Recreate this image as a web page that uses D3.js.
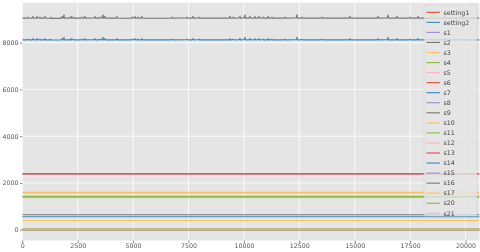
<!DOCTYPE html>
<html>
<head>
<meta charset="utf-8">
<script src="https://cdn.jsdelivr.net/npm/d3@7"></script>
<style>
  body { margin: 0; background: #fff; }
  svg { will-change: transform; }
  text { font-family: "DejaVu Sans", sans-serif; }
</style>
</head>
<body>
<div id="chart"></div>
<script>
// column names, in plotting order
var seriesNames = ['setting1', 'setting2', 's1', 's2', 's3', 's4', 's5', 's6', 's7', 's8',
    's9', 's10', 's11', 's12', 's13', 's14', 's15', 's16', 's17', 's20', 's21'];

// flat-looking sensors: level (null = drawn from its own array)
var flatLevels = [0, 0, 518.7, 642.7, 1590, 1409, 14.6, 21.6, 553.4, 2388,
    null, 1.3, 47.5, 521.4, 2388, null, 8.4, 0.03, 393, 38.8, 23.3];
var flatIdx = [0, 20630];

// s9 / s14 with their spikes (same index positions)
var topIdx = [0,
    207,257,272, 433,483,498, 613,663,678, 749,799,814, 974,1024,1039,
    1245,1295,1310, 1742,1792,1807, 1832,1882,1897, 2148,2198,2213, 2238,2288,2303,
    2644,2694,2709, 2780,2830,2845, 3231,3281,3296, 3457,3507,3522, 3592,3642,3657,
    3683,3733,3748, 4224,4274,4289, 4901,4951,4966, 5037,5087,5102, 5172,5222,5237,
    5353,5403,5418, 6706,6756,6771, 7383,7433,7448, 7654,7704,7719, 7925,7975,7990,
    9324,9374,9389, 9460,9510,9525, 9776,9826,9841, 10002,10052,10067, 10227,10277,10292,
    10453,10503,10518, 10634,10684,10699, 10814,10864,10879, 11040,11090,11105, 11220,11270,11285,
    11807,11857,11872, 12349,12399,12414, 12574,12624,12639, 13477,13527,13542, 14740,14790,14805,
    16004,16054,16069, 16455,16505,16520, 16862,16912,16927, 17448,17498,17513, 17809,17859,17874,
    18351,18401,18416, 19028,19078,19093, 19705,19755,19770,
    20630];

var s9Vals = [9050,
    9052,9092,9048, 9050,9125,9046, 9052,9118,9050, 9054,9090,9050, 9050,9122,9048,
    9046,9088,9040, 9040,9118,9044, 9046,9190,9050, 9052,9125,9048, 9050,9095,9050,
    9052,9092,9054, 9050,9125,9052, 9054,9122,9050, 9052,9095,9050, 9054,9195,9050,
    9052,9128,9050, 9050,9118,9048, 9050,9092,9052, 9054,9125,9050, 9052,9090,9050,
    9052,9122,9048, 9050,9095,9052, 9054,9092,9050, 9052,9125,9050, 9054,9095,9052,
    9050,9125,9048, 9052,9090,9050, 9054,9128,9052, 9054,9190,9050, 9052,9125,9054,
    9052,9122,9050, 9054,9125,9052, 9054,9095,9050, 9052,9122,9050, 9052,9092,9050,
    9052,9095,9050, 9054,9198,9052, 9050,9092,9052, 9050,9095,9050, 9052,9125,9050,
    9052,9122,9050, 9054,9188,9052, 9050,9125,9052, 9052,9092,9050, 9052,9122,9050,
    9050,9092,9052, 9052,9125,9050, 9052,9095,9050,
    9050];

var s14Vals = [8120,
    8122,8150,8120, 8120,8178,8118, 8122,8172,8120, 8124,8148,8120, 8120,8175,8118,
    8118,8146,8114, 8114,8172,8116, 8118,8228,8122, 8122,8178,8120, 8120,8152,8122,
    8122,8150,8124, 8120,8178,8122, 8124,8175,8120, 8122,8152,8120, 8124,8232,8120,
    8122,8180,8120, 8120,8172,8118, 8120,8150,8122, 8124,8178,8120, 8122,8148,8120,
    8122,8175,8118, 8120,8152,8122, 8124,8150,8120, 8122,8178,8120, 8124,8152,8122,
    8120,8178,8118, 8122,8148,8120, 8124,8180,8122, 8124,8228,8120, 8122,8178,8124,
    8122,8175,8120, 8124,8178,8122, 8124,8152,8120, 8122,8175,8120, 8122,8150,8120,
    8122,8152,8120, 8124,8234,8122, 8120,8150,8122, 8120,8152,8120, 8122,8178,8120,
    8122,8175,8120, 8124,8226,8122, 8120,8178,8122, 8122,8150,8120, 8122,8175,8120,
    8120,8150,8122, 8122,8178,8120, 8122,8152,8120,
    8120];

var xTicks = [0, 2500, 5000, 7500, 10000, 12500, 15000, 17500, 20000];
var yTicks = [0, 2000, 4000, 6000, 8000];

var palette = ['#E24A33', '#348ABD', '#988ED5', '#777777', '#FBC15E', '#8EBA42', '#FFB5B8'];

var W = 480, H = 252;
var plotL = 22.3, plotR = 479.5, plotT = 2.8, plotB = 240.5;

var x = d3.scaleLinear().domain([0, 20630]).range([plotL, plotR]);
var y = d3.scaleLinear().domain([-462, 9706]).range([plotB, plotT]);

var svg = d3.select('#chart').append('svg')
    .attr('width', W).attr('height', H);

svg.append('defs').append('clipPath').attr('id', 'plotclip')
    .append('rect')
    .attr('x', plotL).attr('y', plotT)
    .attr('width', plotR - plotL).attr('height', plotB - plotT);

svg.append('rect')
    .attr('x', plotL).attr('y', plotT)
    .attr('width', plotR - plotL).attr('height', plotB - plotT)
    .attr('fill', '#E5E5E5');

// grid
var grid = svg.append('g').attr('class', 'grid');
grid.selectAll('.vg').data(xTicks).enter().append('line')
    .attr('x1', function(d) { return x(d); }).attr('x2', function(d) { return x(d); })
    .attr('y1', plotT).attr('y2', plotB)
    .attr('stroke', '#fff').attr('stroke-width', 0.8);
grid.selectAll('.hg').data(yTicks).enter().append('line')
    .attr('x1', plotL).attr('x2', plotR)
    .attr('y1', function(d) { return y(d); }).attr('y2', function(d) { return y(d); })
    .attr('stroke', '#fff').attr('stroke-width', 0.8);

// axes
var xAxis = svg.append('g')
    .attr('transform', 'translate(0,' + plotB + ')')
    .call(d3.axisBottom(x).tickValues(xTicks).tickFormat(d3.format('d')).tickSize(2.5).tickPadding(0.5));
var yAxis = svg.append('g')
    .attr('transform', 'translate(' + plotL + ',0)')
    .call(d3.axisLeft(y).tickValues(yTicks).tickFormat(d3.format('d')).tickSize(2.5).tickPadding(1.3));
[xAxis, yAxis].forEach(function(a) {
    a.select('.domain').remove();
    a.selectAll('line').attr('stroke', '#555').attr('stroke-width', 0.7);
    a.selectAll('text').attr('fill', '#555').style('font-size', '6.3px')
        .style('font-family', '"DejaVu Sans", sans-serif');
});

// lines
var line = d3.line()
    .x(function(d) { return x(d[0]); })
    .y(function(d) { return y(d[1]); });

var lines = svg.append('g').attr('clip-path', 'url(#plotclip)');

seriesNames.forEach(function(name, i) {
    var pts;
    if (name === 's9') {
        pts = topIdx.map(function(t, k) { return [t, s9Vals[k]]; });
    } else if (name === 's14') {
        pts = topIdx.map(function(t, k) { return [t, s14Vals[k]]; });
    } else {
        pts = flatIdx.map(function(t) { return [t, flatLevels[i]]; });
    }
    var w = 1.1;
    if (name === 's4') w = 2.2;
    if (name === 's3') w = 1.7;
    lines.append('path')
        .datum(pts)
        .attr('d', line)
        .attr('fill', 'none')
        .attr('stroke', palette[i % palette.length])
        .attr('stroke-width', w)
        .attr('stroke-linejoin', 'round');
});

// legend
var legend = svg.append('g').attr('class', 'legend');
legend.append('rect')
    .attr('x', 424).attr('y', 5)
    .attr('width', 53).attr('height', 211)
    .attr('rx', 2)
    .attr('fill', '#E5E5E5').attr('fill-opacity', 0.8)
    .attr('stroke', '#cccccc').attr('stroke-opacity', 0.6).attr('stroke-width', 0.6);

var rows = legend.selectAll('.row').data(seriesNames).enter().append('g')
    .attr('transform', function(d, i) { return 'translate(0,' + (12.3 + i * 10.05) + ')'; });
rows.append('line')
    .attr('x1', 426.5).attr('x2', 440).attr('y1', 0).attr('y2', 0)
    .attr('stroke', function(d, i) { return palette[i % palette.length]; })
    .attr('stroke-width', 1.1);
rows.append('text')
    .attr('x', 443.5).attr('y', 0).attr('dy', '0.35em')
    .attr('fill', '#444')
    .style('font-size', '6.3px')
    .text(function(d) { return d; });
</script>
</body>
</html>
